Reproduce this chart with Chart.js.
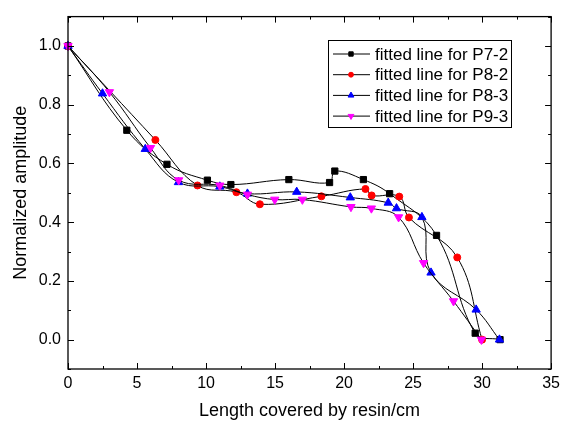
<!DOCTYPE html>
<html>
<head>
<meta charset="utf-8">
<script src="https://cdn.jsdelivr.net/npm/chart.js@4.4.0/dist/chart.umd.min.js"></script>
<style>
    html, body { margin: 0; padding: 0; background: #fff; }
</style>
</head>
<body>
<canvas id="AmplitudChart" width="565" height="427"></canvas>
<script>
// Datos
var p72X = [0, 4.26, 7.17, 10.1, 11.8, 16.0, 18.95, 19.33, 21.4, 23.3, 26.7, 29.5, 31.3];
var p72Y = [1.0, 0.713, 0.597, 0.543, 0.528, 0.545, 0.535, 0.574, 0.545, 0.497, 0.355, 0.022, 0.0];

var p82X = [0, 6.33, 9.38, 12.2, 13.9, 18.36, 21.55, 22.0, 24.0, 24.7, 28.2, 30.0];
var p82Y = [1.0, 0.68, 0.525, 0.502, 0.461, 0.488, 0.513, 0.491, 0.487, 0.416, 0.28, 0.0];

var p83X = [0, 2.5, 5.6, 8.0, 11.0, 13.0, 16.57, 20.45, 23.2, 23.8, 25.64, 26.3, 29.57, 31.26];
var p83Y = [1.0, 0.838, 0.649, 0.536, 0.521, 0.497, 0.503, 0.484, 0.466, 0.447, 0.417, 0.228, 0.102, 0.0];

var p93X = [0, 3.0, 5.98, 8.02, 11.0, 13.0, 14.98, 16.98, 20.5, 21.98, 23.95, 25.76, 27.93, 29.95];
var p93Y = [1.0, 0.843, 0.653, 0.543, 0.525, 0.494, 0.477, 0.477, 0.452, 0.447, 0.417, 0.261, 0.131, 0.0];

var etiquetas = ['fitted line for P7-2', 'fitted line for P8-2', 'fitted line for P8-3', 'fitted line for P9-3'];
var xTicks = [0, 5, 10, 15, 20, 25, 30, 35];
var yTicks = [0.0, 0.2, 0.4, 0.6, 0.8, 1.0];

var fuente = 'Liberation Sans, Arial, sans-serif';

function puntos(xs, ys) {
    return xs.map(function (x, i) { return { x: x, y: ys[i] }; });
}

function serie(label, xs, ys, color, estilo, radio, rot, orden) {
    return {
        label: label,
        data: puntos(xs, ys),
        borderColor: '#000',
        borderWidth: 1,
        tension: 0.4,
        pointStyle: estilo,
        pointRadius: radio,
        pointRotation: rot,
        pointBackgroundColor: color,
        pointBorderColor: color,
        pointBorderWidth: 1,
        clip: false,
        order: orden
    };
}

// Marco con marcas hacia adentro en los cuatro lados
var marcoPlugin = {
    id: 'marco',
    afterDraw: function (chart) {
        var ctx = chart.ctx;
        var a = chart.chartArea;
        var sx = chart.scales.x;
        var sy = chart.scales.y;
        ctx.save();
        ctx.strokeStyle = '#000';
        ctx.lineWidth = 1.3;
        ctx.strokeRect(a.left, a.top, a.right - a.left, a.bottom - a.top);
        ctx.lineWidth = 1;
        ctx.beginPath();
        for (var v = 0; v <= 35; v += 2.5) {
            var px = Math.round(sx.getPixelForValue(v)) + 0.5;
            var len = (v % 5 === 0) ? 6 : 3;
            ctx.moveTo(px, a.bottom); ctx.lineTo(px, a.bottom - len);
            ctx.moveTo(px, a.top); ctx.lineTo(px, a.top + len);
        }
        for (var k = -1; k <= 11; k++) {
            var py = Math.round(sy.getPixelForValue(k / 10)) + 0.5;
            var l2 = (k % 2 === 0) ? 6 : 3;
            ctx.moveTo(a.left, py); ctx.lineTo(a.left + l2, py);
            ctx.moveTo(a.right, py); ctx.lineTo(a.right - l2, py);
        }
        ctx.stroke();
        ctx.restore();
    }
};

// Leyenda dentro del area del grafico
var leyendaPlugin = {
    id: 'leyendaDentro',
    afterDraw: function (chart) {
        var ctx = chart.ctx;
        var x0 = 328, y0 = 40, w = 183, h = 87;
        ctx.save();
        ctx.fillStyle = '#fff';
        ctx.fillRect(x0, y0, w, h);
        ctx.strokeStyle = '#000';
        ctx.lineWidth = 1;
        ctx.strokeRect(x0 + 0.5, y0 + 0.5, w, h);
        chart.data.datasets.forEach(function (ds, i) {
            var y = y0 + 14 + i * 20.7;
            ctx.strokeStyle = '#000';
            ctx.lineWidth = 1;
            ctx.beginPath();
            ctx.moveTo(x0 + 5, y); ctx.lineTo(x0 + 42, y);
            ctx.stroke();
            ctx.fillStyle = ds.pointBackgroundColor;
            ctx.strokeStyle = ds.pointBorderColor;
            Chart.helpers.drawPoint(ctx, {
                pointStyle: ds.pointStyle,
                radius: ds.pointRadius * 0.7,
                rotation: ds.pointRotation,
                borderWidth: 1
            }, x0 + 23, y);
            ctx.fillStyle = '#000';
            ctx.font = '17px ' + fuente;
            ctx.textBaseline = 'middle';
            ctx.textAlign = 'left';
            ctx.fillText(ds.label, x0 + 47, y + 1);
        });
        ctx.restore();
    }
};

var cta = document.getElementById('AmplitudChart').getContext('2d');

var amplitudChart = new Chart(cta, {
    type: 'line',
    data: {
        datasets: [
            serie(etiquetas[0], p72X, p72Y, '#000000', 'rect', 4.4, 0, 3),
            serie(etiquetas[1], p82X, p82Y, '#ff0000', 'circle', 3.5, 0, 2),
            serie(etiquetas[2], p83X, p83Y, '#0000ff', 'triangle', 4.8, 0, 1),
            serie(etiquetas[3], p93X, p93Y, '#ff00ff', 'triangle', 4.8, 180, 0)
        ]
    },
    options: {
        responsive: false,
        animation: false,
        layout: {
            padding: { top: 5, right: 8, left: 0, bottom: 0 }
        },
        scales: {
            x: {
                type: 'linear',
                min: 0,
                max: 35,
                afterBuildTicks: function (scale) {
                    scale.ticks = xTicks.map(function (v) { return { value: v }; });
                },
                afterFit: function (scale) { scale.height = 58; },
                grid: { display: false, drawTicks: false },
                border: { display: false },
                ticks: {
                    color: '#000',
                    padding: 5,
                    maxRotation: 0,
                    font: { family: fuente, size: 16 }
                },
                title: {
                    display: true,
                    text: 'Length covered by resin/cm',
                    color: '#000',
                    font: { family: fuente, size: 18 },
                    padding: { top: 0, bottom: 5 }
                }
            },
            y: {
                min: -0.1,
                max: 1.1,
                afterBuildTicks: function (scale) {
                    scale.ticks = yTicks.map(function (v) { return { value: v }; });
                },
                afterFit: function (scale) { scale.width = 68; },
                grid: { display: false, drawTicks: false },
                border: { display: false },
                ticks: {
                    color: '#000',
                    padding: 7,
                    font: { family: fuente, size: 16 },
                    callback: function (v) { return Number(v).toFixed(1); }
                },
                title: {
                    display: true,
                    text: 'Normalized amplitude',
                    color: '#000',
                    font: { family: fuente, size: 18 },
                    padding: { top: 10, bottom: 0 }
                }
            }
        },
        plugins: {
            legend: { display: false },
            tooltip: { enabled: false }
        }
    },
    plugins: [marcoPlugin, leyendaPlugin]
});
</script>
</body>
</html>
